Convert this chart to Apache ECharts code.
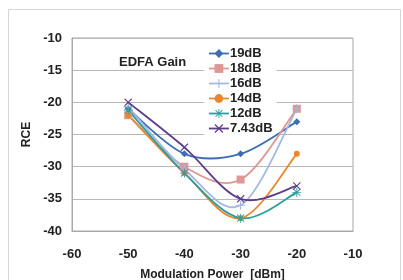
<!DOCTYPE html>
<html><head><meta charset="utf-8">
<script src="https://cdn.jsdelivr.net/npm/echarts@6/dist/echarts.min.js"></script>
<style>html,body{margin:0;padding:0;background:#fff}#c{width:403px;height:280px}</style>
</head><body><div id="c"></div>
<script>
const xValues = [-50, -40, -30, -20];
const seriesNames = ['19dB', '18dB', '16dB', '14dB', '12dB', '7.43dB'];
const s19 = [-21, -28, -28, -23];
const s18 = [-22, -30, -32, -21];
const s16 = [-20.7, -30.4, -36, -21];
const s14 = [-22, -31, -38, -28];
const s12 = [-21.2, -31, -38, -34];
const s743 = [-20, -27, -35, -33];
const yTicks = [-40, -35, -30, -25, -20, -15, -10];
const xTicks = [-60, -50, -40, -30, -20, -10];

const plusSym = 'path://M4.4,0h1.2v4.4h4.4v1.2h-4.4v4.4h-1.2v-4.4h-4.4v-1.2h4.4z';
const xSym = 'path://M1,0L5,4L9,0L10,1L6,5L10,9L9,10L5,6L1,10L0,9L4,5L0,1z';
const astSym = 'path://M4.5,0h1v4.5h4.5v1h-4.5v4.5h-1v-4.5h-4.5v-1h4.5zM1.5,0.8L5,4.3L8.5,0.8L9.2,1.5L5.7,5L9.2,8.5L8.5,9.2L5,5.7L1.5,9.2L0.8,8.5L4.3,5L0.8,1.5z';

const colors = ['#3F6DB3', '#DE9794', '#A3B8E0', '#E8872F', '#2E9E9E', '#5E3E8C'];
const symbols = ['diamond', 'rect', plusSym, 'circle', astSym, xSym];
const sizes = [7, 8, 9, 6, 9, 8];
const datas = [s19, s18, s16, s14, s12, s743];

const font = 'Liberation Sans, Arial, sans-serif';

// Smooth curve (Catmull-Rom style Bezier) drawn per segment, points mapped through the axes
function curveSeries(i) {
  const vals = datas[i];
  return {
    type: 'custom', name: seriesNames[i] + ' curve', silent: true, z: 6 + i,
    data: xValues.map((x, j) => [x, vals[j]]),
    renderItem: function (params, api) {
      const j = params.dataIndex;
      if (j >= xValues.length - 1) return null;
      const n = xValues.length;
      const P = k => { const kk = Math.max(0, Math.min(n - 1, k)); return api.coord([xValues[kk], vals[kk]]); };
      const p0 = P(j - 1), p1 = P(j), p2 = P(j + 1), p3 = P(j + 2);
      const c1 = [p1[0] + (p2[0] - p0[0]) / 6, p1[1] + (p2[1] - p0[1]) / 6];
      const c2 = [p2[0] - (p3[0] - p1[0]) / 6, p2[1] - (p3[1] - p1[1]) / 6];
      return {
        type: 'bezierCurve',
        shape: {x1: p1[0], y1: p1[1], cpx1: c1[0], cpy1: c1[1], cpx2: c2[0], cpy2: c2[1], x2: p2[0], y2: p2[1]},
        style: {stroke: colors[i], lineWidth: 1.8, fill: null}
      };
    }
  };
}

const chart = echarts.init(document.getElementById('c'), null, {renderer: 'canvas'});
chart.setOption({
  animation: false,
  backgroundColor: '#fff',
  graphic: [
    {type: 'rect', shape: {x: 8.5, y: 9.5, width: 392, height: 290}, style: {fill: 'none', stroke: '#d6d6d6', lineWidth: 1}, z: -1},
    {type: 'text', left: 119, top: 56, style: {text: 'EDFA Gain', font: 'bold 13px ' + font, fill: '#222'}}
  ],
  grid: {left: 72, top: 38, right: 50, bottom: 49, show: true, borderColor: '#a8a8a8', borderWidth: 1,
    outerBoundsMode: 'none', containLabel: false},
  legend: {
    orient: 'vertical', left: 204, top: 45, itemGap: 2, itemWidth: 20, itemHeight: 11, z: 4,
    backgroundColor: '#fff', padding: [2, 4, 2, 4],
    textStyle: {fontFamily: font, fontWeight: 'bold', fontSize: 13, color: '#222', padding: [0, 0, 0, -4]},
    data: seriesNames.map((n, i) => ({name: n, lineStyle: {opacity: 1, width: 1.8, color: colors[i]}}))
  },
  xAxis: {
    type: 'value', min: -60, max: -10, interval: 10,
    name: 'Modulation Power  [dBm]', nameLocation: 'middle', nameGap: 38,
    nameTextStyle: {fontFamily: font, fontWeight: 'bold', fontSize: 12, color: '#222'},
    axisLine: {show: true, lineStyle: {color: '#a8a8a8'}}, axisTick: {show: false},
    splitLine: {show: false},
    axisLabel: {margin: 17, fontFamily: font, fontWeight: 'bold', fontSize: 13, color: '#222',
      formatter: v => xTicks.includes(v) ? String(v) : ''}
  },
  yAxis: {
    type: 'value', min: -40, max: -10, interval: 5,
    name: 'RCE', nameLocation: 'middle', nameGap: 39, nameRotate: 90,
    nameTextStyle: {fontFamily: font, fontWeight: 'bold', fontSize: 12, color: '#222'},
    axisLine: {show: true, lineStyle: {color: '#a8a8a8'}}, axisTick: {show: false},
    splitLine: {show: true, lineStyle: {color: '#b8b8b8', width: 1}},
    axisLabel: {margin: 10, fontFamily: font, fontWeight: 'bold', fontSize: 13, color: '#222',
      formatter: v => yTicks.includes(v) ? String(v) : ''}
  },
  series: seriesNames.map((n, i) => ({
    name: n, type: 'line',
    data: xValues.map((x, j) => [x, datas[i][j]]),
    symbol: symbols[i], symbolSize: sizes[i], showAllSymbol: true,
    lineStyle: {color: colors[i], width: 1.8, opacity: 0},
    itemStyle: {color: colors[i], borderWidth: 0},
    z: 12 + i
  })).concat(seriesNames.map((n, i) => curveSeries(i)))
});
</script></body></html>
